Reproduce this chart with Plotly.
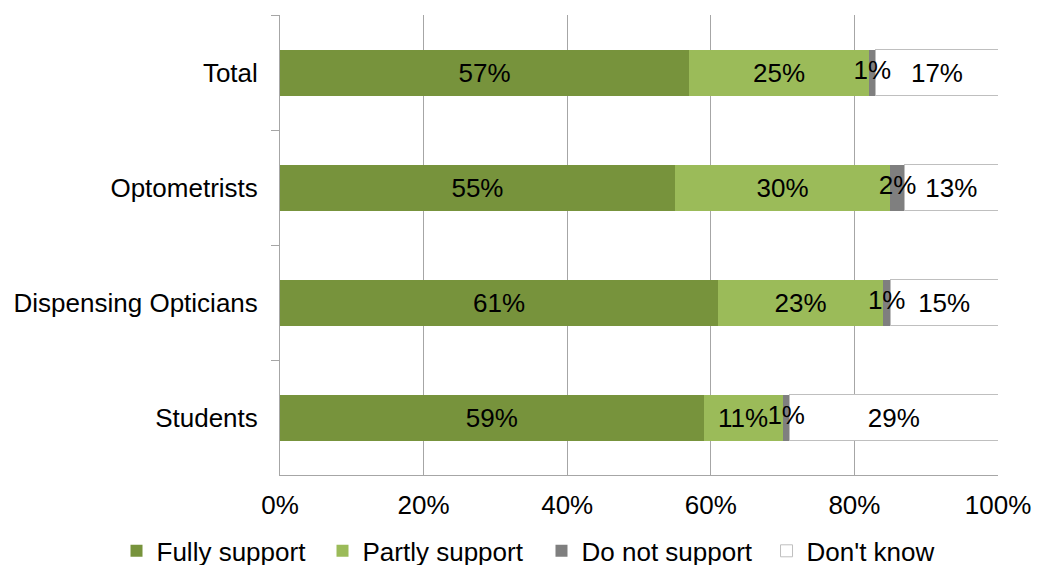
import plotly.graph_objects as go

categories = ["Total", "Optometrists", "Dispensing Opticians", "Students"]
fully = [57, 55, 61, 59]
partly = [25, 30, 23, 11]
not_support = [1, 2, 1, 1]
dont_know = [17, 13, 15, 29]
x_ticks = [0, 20, 40, 60, 80, 100]
x_tick_labels = ["0%", "20%", "40%", "60%", "80%", "100%"]

series = [
    ("Fully support", fully, "#77933C", None, "legend", True),
    ("Partly support", partly, "#9BBB59", None, "legend2", True),
    ("Do not support", not_support, "#7F7F7F", None, "legend3", False),
    ("Don't know", dont_know, "#FFFFFF", "#BFBFBF", "legend4", True),
]

FONT = "Liberation Sans, Arial, sans-serif"
FS = 26
fig = go.Figure()
for name, vals, color, line, leg, inside_text in series:
    fig.add_trace(go.Bar(
        y=categories, x=vals, orientation="h", name=name, legend=leg,
        marker=dict(color=color,
                    line=dict(color=line if line else color, width=1 if line else 0)),
        width=0.4,
        text=[f"{v}%" for v in vals] if inside_text else None,
        textposition="inside" if inside_text else "none",
        insidetextanchor="middle",
        textangle=0, constraintext="none",
        textfont=dict(color="#000000", size=FS, family=FONT),
        hoverinfo="skip",
    ))

# labels of the thin "Do not support" segments, drawn on top of all bars
mid_not = [f + p + n / 2 for f, p, n in zip(fully, partly, not_support)]
fig.add_trace(go.Scatter(
    x=mid_not, y=categories, mode="text",
    text=[f"{v}%" for v in not_support],
    textposition="middle center",
    textfont=dict(color="#000000", size=FS, family=FONT),
    showlegend=False, hoverinfo="skip", cliponaxis=False,
))

def leg(x):
    return dict(orientation="h", xref="paper", yref="paper",
                x=x, xanchor="left", y=-0.165, yanchor="middle",
                font=dict(size=FS, family=FONT), bgcolor="rgba(0,0,0,0)")

fig.update_layout(
    barmode="stack",
    width=1037, height=565,
    margin=dict(l=280, r=39, t=15, b=90, autoexpand=False),
    paper_bgcolor="white", plot_bgcolor="white",
    font=dict(family=FONT, size=FS, color="#000000"),
    legend=leg(-0.2277),
    legend2=leg(0.0592),
    legend3=leg(0.3642),
    legend4=leg(0.6776),
    xaxis=dict(range=[0, 100], tickvals=x_ticks, ticktext=x_tick_labels,
               showgrid=True, gridcolor="#A6A6A6", gridwidth=1,
               showline=True, linecolor="#A6A6A6", linewidth=1,
               zeroline=False, ticks="", tickfont=dict(size=FS), automargin=False,
               ticklabelstandoff=7),
    yaxis=dict(autorange="reversed", showline=True, linecolor="#A6A6A6", linewidth=1,
               ticks="outside", tickson="boundaries", ticklen=8, tickcolor="#A6A6A6",
               showgrid=False, tickfont=dict(size=FS), ticklabelstandoff=16,
               automargin=False),
)

fig.write_html("out.html", config={"displayModeBar": False},
               post_script="document.body.style.margin='0';")
